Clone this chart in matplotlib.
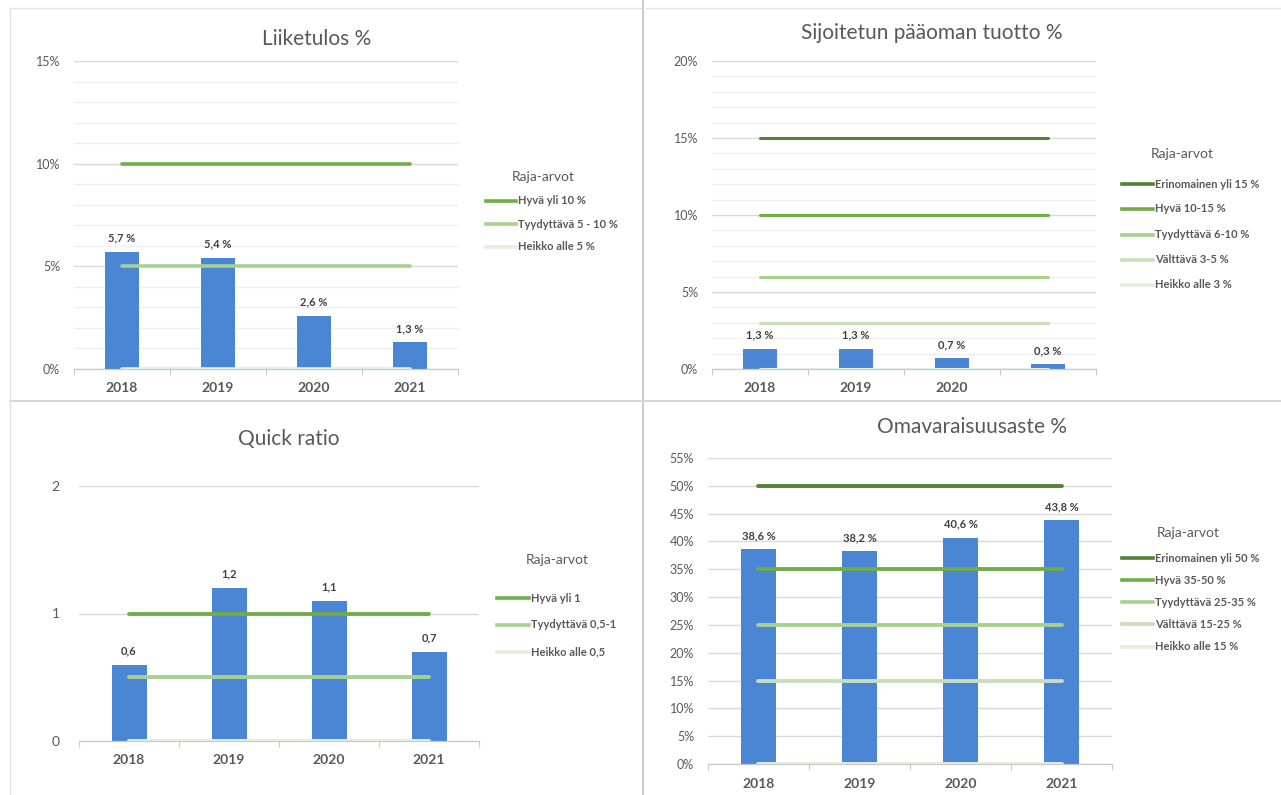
import matplotlib
matplotlib.use("Agg")
import matplotlib.pyplot as plt
from matplotlib.lines import Line2D
from matplotlib.ticker import FixedLocator, MultipleLocator, FuncFormatter

plt.rcParams['font.family'] = ['Lato', 'DejaVu Sans']

# ---------------- data ----------------
years = ['2018', '2019', '2020', '2021']

liiketulos = [5.7, 5.4, 2.6, 1.3]
liiketulos_labels = ['5,7 %', '5,4 %', '2,6 %', '1,3 %']
liiketulos_thr_names = ['Hyvä yli 10 %', 'Tyydyttävä 5 - 10 %', 'Heikko alle 5 %']
liiketulos_thr_values = [10, 5, 0]

sijoitetun = [1.3, 1.3, 0.7, 0.3]
sijoitetun_labels = ['1,3 %', '1,3 %', '0,7 %', '0,3 %']
sijoitetun_ticklabels = ['2018', '2019', '2020', '']
sijoitetun_thr_names = ['Erinomainen yli 15 %', 'Hyvä 10-15 %', 'Tyydyttävä 6-10 %',
                        'Välttävä 3-5 %', 'Heikko alle 3 %']
sijoitetun_thr_values = [15, 10, 6, 3, 0]

quick = [0.6, 1.2, 1.1, 0.7]
quick_labels = ['0,6', '1,2', '1,1', '0,7']
quick_thr_names = ['Hyvä yli 1', 'Tyydyttävä 0,5-1', 'Heikko alle 0,5']
quick_thr_values = [1, 0.5, 0]

omavar = [38.6, 38.2, 40.6, 43.8]
omavar_labels = ['38,6 %', '38,2 %', '40,6 %', '43,8 %']
omavar_thr_names = ['Erinomainen yli 50 %', 'Hyvä 35-50 %', 'Tyydyttävä 25-35 %',
                    'Välttävä 15-25 %', 'Heikko alle 15 %']
omavar_thr_values = [50, 35, 25, 15, 0]

# ---------------- style ----------------
W, H = 1281, 795
BAR = '#4a86d4'
TXT = '#595959'
C_ERI = '#548235'
C_HYVA = '#70ad47'
C_TYY = '#a9d18e'
C_VAL = '#c9dcbc'
C_HEI = '#e4eedc'

fig = plt.figure(figsize=(W / 100, H / 100), dpi=100)
fig.patch.set_facecolor('white')


def fx(px):
    return px / W


def fy(py):
    return 1 - py / H


def add_ax(x0, y0, x1, y1):
    return fig.add_axes([fx(x0), fy(y1), (x1 - x0) / W, (y1 - y0) / H])


# panel separators
for (xa, ya, xb, yb, c, lw) in [
        (643, 0, 643, 795, '#cccccc', 1.5),
        (10, 401, 1281, 401, '#d6d6d6', 1.4),
        (10, 8, 641, 8, '#e2e2e2', 1.0),
        (10, 8, 10, 400, '#e2e2e2', 1.0),
        (646, 8, 1281, 8, '#e2e2e2', 1.0),
        (10, 401, 10, 795, '#e2e2e2', 1.0)]:
    fig.add_artist(Line2D([fx(xa), fx(xb)], [fy(ya), fy(yb)], color=c, lw=lw,
                          transform=fig.transFigure))


def panel(box, values, labels, ticklabels, ymax, major, minor, fmt, thr_vals,
          thr_names, thr_colors, lw, ypad, xpad, ysize, title, title_xy,
          leg_title_xy, leg_y, leg_hx):
    ax = add_ax(*box)
    x = list(range(len(values)))
    ax.bar(x, values, width=0.35, color=BAR, zorder=2)
    for v, xi, lab in zip(values, x, labels):
        ax.annotate(lab, (xi, v), xytext=(0, 6), textcoords='offset points',
                    ha='center', va='bottom', fontsize=8, color='#404040',
                    fontweight='bold')
    for v, c in zip(thr_vals, thr_colors):
        ax.plot([x[0], x[-1]], [v, v], color=c, lw=lw, solid_capstyle='round',
                zorder=3)
    ax.set_xlim(-0.5, len(values) - 0.5)
    ax.set_ylim(0, ymax)
    ax.yaxis.set_major_locator(MultipleLocator(major))
    if minor:
        ax.yaxis.set_minor_locator(MultipleLocator(minor))
        ax.grid(axis='y', which='minor', color='#eeeeee', lw=0.9, zorder=0)
    ax.grid(axis='y', which='major', color='#d9d9d9', lw=1.0, zorder=0)
    ax.yaxis.set_major_formatter(FuncFormatter(fmt))
    ax.set_xticks(x)
    ax.set_xticklabels(ticklabels)
    ax.xaxis.set_minor_locator(FixedLocator([i - 0.5 for i in range(len(values) + 1)]))
    ax.tick_params(axis='x', which='major', length=0, pad=xpad, labelsize=10,
                   labelcolor=TXT)
    ax.tick_params(axis='x', which='minor', length=4, color='#c8c8c8', width=0.8)
    for lab in ax.get_xticklabels():
        lab.set_fontweight('bold')
    ax.tick_params(axis='y', which='both', length=0, pad=ypad, labelsize=ysize,
                   labelcolor=TXT)
    for s in ['top', 'right', 'left']:
        ax.spines[s].set_visible(False)
    ax.spines['bottom'].set_color('#c8c8c8')
    ax.spines['bottom'].set_linewidth(0.9)
    ax.set_axisbelow(True)

    fig.text(fx(title_xy[0]), fy(title_xy[1]), title, ha='center', va='center',
             fontsize=15, color=TXT)
    fig.text(fx(leg_title_xy[0]), fy(leg_title_xy[1]), 'Raja-arvot', ha='center',
             va='center', fontsize=10, color=TXT)
    for yy, name, c in zip(leg_y, thr_names, thr_colors):
        fig.add_artist(Line2D([fx(leg_hx[0]), fx(leg_hx[1])], [fy(yy), fy(yy)],
                              color=c, lw=2.6, transform=fig.transFigure))
        fig.text(fx(leg_hx[1] + 2), fy(yy), name, ha='left', va='center',
                 fontsize=8, color=TXT, fontweight='bold')
    return ax


pct = lambda v, p: f'{int(round(v))}%'
num = lambda v, p: f'{int(round(v))}'

panel((74, 61, 458, 369), liiketulos, liiketulos_labels, years, 15, 5, 1, pct,
      liiketulos_thr_values, liiketulos_thr_names, [C_HYVA, C_TYY, C_HEI], 2.6,
      10, 9, 9, 'Liiketulos %', (317, 39), (543, 177), [201, 224, 247], (486, 516))

panel((712, 61, 1096, 369), sijoitetun, sijoitetun_labels, sijoitetun_ticklabels,
      20, 5, 1, pct, sijoitetun_thr_values, sijoitetun_thr_names,
      [C_ERI, C_HYVA, C_TYY, C_VAL, C_HEI], 2.2, 10, 9, 9,
      'Sijoitetun pääoman tuotto %', (932, 33), (1182, 154),
      [184, 209, 235, 260, 285], (1122, 1153))

panel((79, 486, 479, 741), quick, quick_labels, years, 2, 1, None, num,
      quick_thr_values, quick_thr_names, [C_HYVA, C_TYY, C_HEI], 2.8,
      14, 9, 10, 'Quick ratio', (289, 439), (557, 560), [598, 625, 652], (497, 529))

panel((708, 458, 1112, 764), omavar, omavar_labels, years, 55, 5, None, pct,
      omavar_thr_values, omavar_thr_names, [C_ERI, C_HYVA, C_TYY, C_VAL, C_HEI],
      2.8, 10, 10, 9, 'Omavaraisuusaste %', (972, 427), (1188, 533),
      [558, 580, 602, 624, 647], (1122, 1153))

fig.savefig('out.png', dpi=100, facecolor='white')
